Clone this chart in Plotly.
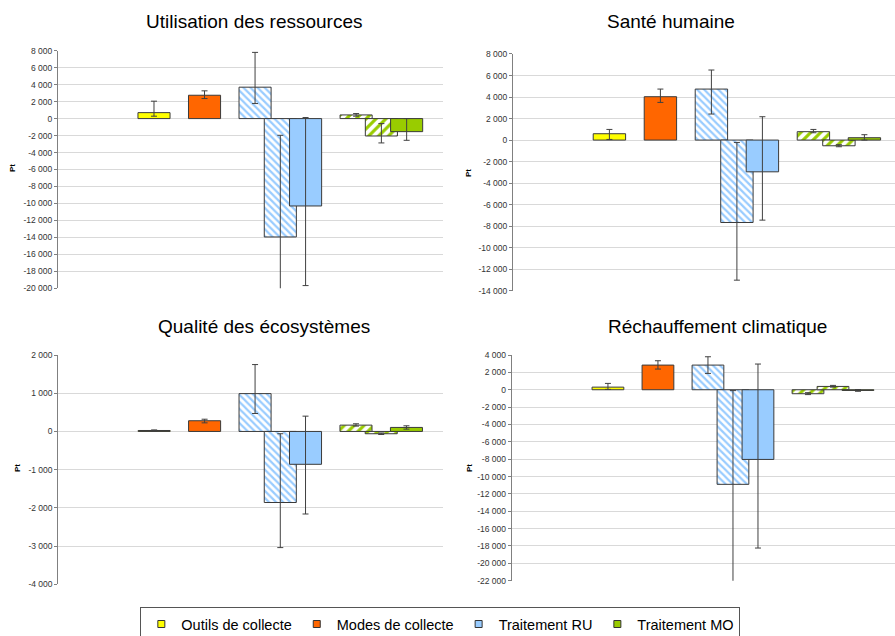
import plotly.graph_objects as go

# ---------------- data ----------------
impacts = ["Utilisation des ressources", "Santé humaine",
           "Qualité des écosystèmes", "Réchauffement climatique"]

# bar slots on the (hidden) category axis
slots = ["Outils de collecte", "gap 1", "Modes de collecte", "gap 2",
         "RU impacts", "RU évités", "RU net", "gap 3",
         "MO impacts", "MO évités", "MO net"]

outils = [700, 590, 25, 300]
outils_hi = [2050, 990, 40, 730]
outils_lo = [280, 60, 10, 40]

modes = [2750, 4030, 280, 2840]
modes_hi = [3270, 4740, 320, 3340]
modes_lo = [2360, 3500, 225, 2380]

ru_imp = [3700, 4740, 990, 2840]
ru_imp_hi = [7800, 6510, 1750, 3800]
ru_imp_lo = [1770, 2420, 470, 1880]

ru_evit = [-13950, -7660, -1860, -10900]
ru_evit_hi = [-1970, -220, -60, -100]
ru_evit_lo = [-20500, -13020, -3040, -22300]

ru_net = [-10300, -2950, -860, -8030]
ru_net_hi = [120, 2170, 400, 2960]
ru_net_lo = [-19680, -7440, -2160, -18240]

mo_a = [430, 780, 165, -460]
mo_a_hi = [590, 990, 200, -340]
mo_a_lo = [280, 680, 140, -560]

mo_b = [-2050, -530, -60, 380]
mo_b_hi = [-590, -430, -40, 500]
mo_b_lo = [-2870, -620, -80, 300]

mo_net = [-1540, 220, 105, -80]
mo_net_hi = [0, 500, 148, 20]
mo_net_lo = [-2560, 0, 60, -180]

y_min = [-20000, -14000, -4000, -22000]
y_max = [8000, 8000, 2000, 4000]
y_step = [2000, 2000, 1000, 2000]

legend_names = ["Outils de collecte", "Modes de collecte", "Traitement RU", "Traitement MO"]

# ---------------- style ----------------
YELLOW = "#FFFF00"
ORANGE = "#FF6600"
BLUE = "#99CCFF"
GREEN = "#99CC00"
EDGE = "#3A3A3A"
FONT = "Liberation Sans, Arial, sans-serif"

x_domains = [[0.0648, 0.4950], [0.5732, 1.0], [0.0651, 0.4950], [0.5717, 1.0]]
y_domains = [[0.5467, 0.9203], [0.5429, 0.9151], [0.0813, 0.4418], [0.0870, 0.4418]]
x_ranges = [[-3.8, 11.44], [-3.78, 11.2], [-3.8, 11.45], [-3.85, 11.48]]

series = [
    ("Outils de collecte", outils, outils_hi, outils_lo, YELLOW, None),
    ("Modes de collecte", modes, modes_hi, modes_lo, ORANGE, None),
    ("RU impacts", ru_imp, ru_imp_hi, ru_imp_lo, BLUE, "\\"),
    ("RU évités", ru_evit, ru_evit_hi, ru_evit_lo, BLUE, "\\"),
    ("RU net", ru_net, ru_net_hi, ru_net_lo, BLUE, None),
    ("MO impacts", mo_a, mo_a_hi, mo_a_lo, GREEN, "/"),
    ("MO évités", mo_b, mo_b_hi, mo_b_lo, GREEN, "/"),
    ("MO net", mo_net, mo_net_hi, mo_net_lo, GREEN, None),
]

fig = go.Figure()

for k in range(4):
    xa = "x" if k == 0 else f"x{k+1}"
    ya = "y" if k == 0 else f"y{k+1}"
    for slot, vals, hi, lo, col, hatch in series:
        v = vals[k]
        if hatch:
            marker = dict(color="white", line=dict(color=EDGE, width=1),
                          pattern=dict(shape=hatch, fgcolor=col, bgcolor="white",
                                       size=5 if col == BLUE else 7,
                                       solidity=0.45, fillmode="replace"))
        else:
            marker = dict(color=col, line=dict(color=EDGE, width=1))
        fig.add_trace(go.Bar(
            x=[slot], y=[v], xaxis=xa, yaxis=ya, width=1.27,
            marker=marker, showlegend=False, name=slot,
            error_y=dict(type="data", symmetric=False,
                         array=[hi[k] - v], arrayminus=[v - lo[k]],
                         color="#404040", thickness=1, width=3),
        ))

# legend proxies
for name, col in zip(legend_names, [YELLOW, ORANGE, BLUE, GREEN]):
    fig.add_trace(go.Scatter(
        x=[None], y=[None], mode="markers", name=name,
        marker=dict(symbol="square", size=7, color=col, line=dict(color="#333333", width=1)),
        xaxis="x", yaxis="y", showlegend=True))

layout = dict(
    width=895, height=636, autosize=False,
    margin=dict(l=0, r=0, t=0, b=0, autoexpand=False),
    paper_bgcolor="white", plot_bgcolor="white",
    barmode="overlay",
    font=dict(family=FONT, color="#000000"),
    showlegend=True,
    legend=dict(orientation="h", x=0.492, xanchor="center", y=-0.008, yanchor="bottom",
                bgcolor="white", bordercolor="#555555", borderwidth=1,
                font=dict(size=14.5, family=FONT, color="#000000"),
                traceorder="normal", itemwidth=30),
)

for k in range(4):
    sx = "" if k == 0 else str(k + 1)
    tv = list(range(y_min[k], y_max[k] + 1, y_step[k]))
    tt = [f"{v:,}".replace(",", " ") for v in tv]
    layout["xaxis" + sx] = dict(
        domain=x_domains[k], anchor="y" + sx, type="category",
        categoryorder="array", categoryarray=slots, range=x_ranges[k],
        showticklabels=False, showgrid=False, zeroline=False, showline=False,
        ticks="", fixedrange=True)
    layout["yaxis" + sx] = dict(
        domain=y_domains[k], anchor="x" + sx, range=[y_min[k], y_max[k]],
        tickvals=tv, ticktext=tt, showgrid=True, gridcolor="#D9D9D9", gridwidth=1,
        zeroline=False, showline=True, linecolor="#808080", linewidth=1,
        ticks="outside", ticklen=3, tickcolor="#808080",
        tickfont=dict(size=8.5, family=FONT, color="#333333"), fixedrange=True)

fig.update_layout(**layout)

# subplot titles
title_pos = [(254, 21.5), (671, 21.5), (264, 326.5), (717, 326.5)]
for name, (px, py) in zip(impacts, title_pos):
    fig.add_annotation(text=name, xref="paper", yref="paper",
                       x=px / 895, y=1 - py / 636, xanchor="center", yanchor="middle",
                       showarrow=False, font=dict(size=19, family=FONT, color="#000000"))

# axis unit labels
pt_pos = [(13, 168), (468, 173), (18, 468), (470, 468)]
for px, py in pt_pos:
    fig.add_annotation(text="<b>Pt</b>", xref="paper", yref="paper",
                       x=px / 895, y=1 - py / 636, xanchor="center", yanchor="middle",
                       textangle=-90, showarrow=False,
                       font=dict(size=8, family=FONT, color="#000000"))

fig.write_html("out.html", config={"displayModeBar": False},
               post_script="document.body.style.margin='0';")
